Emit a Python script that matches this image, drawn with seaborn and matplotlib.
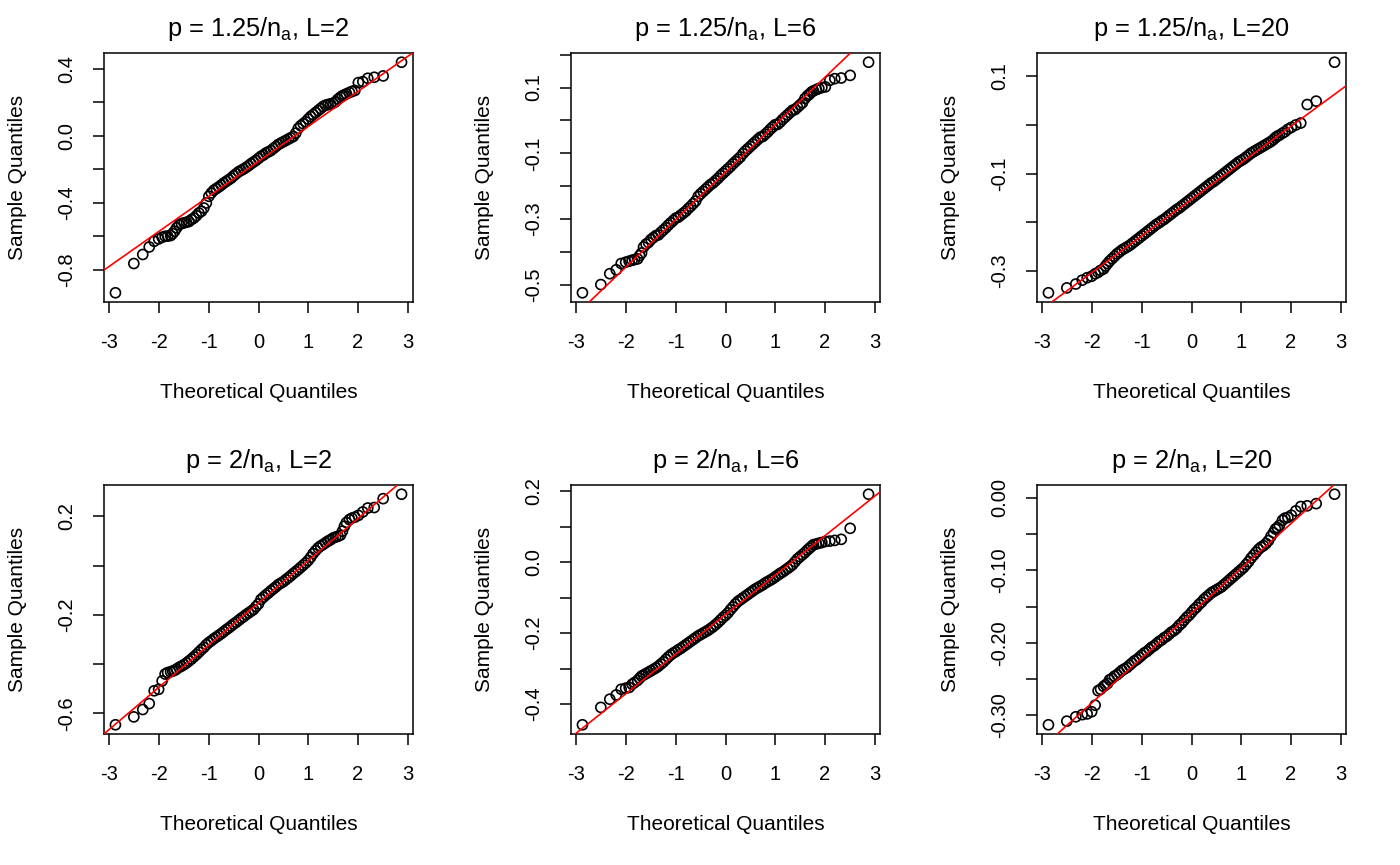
import numpy as np
import pandas as pd
import matplotlib
matplotlib.use("Agg")
import matplotlib.pyplot as plt
import seaborn as sns

# Theoretical normal quantiles (shared by every panel, n = 250 -> tails + dense centre)
theo = [-2.88, -2.51, -2.33, -2.20, -2.10, -2.01, -1.94, -1.88, -1.83, -1.77, -1.73, -1.69,
        -1.65, -1.60, -1.55, -1.50, -1.45, -1.40, -1.35, -1.30, -1.25, -1.20, -1.15, -1.10,
        -1.05, -1.00, -0.95, -0.90, -0.85, -0.80, -0.75, -0.70, -0.65, -0.60, -0.55, -0.50,
        -0.45, -0.40, -0.35, -0.30, -0.25, -0.20, -0.15, -0.10, -0.05, 0.00, 0.05, 0.10,
        0.15, 0.20, 0.25, 0.30, 0.35, 0.40, 0.45, 0.50, 0.55, 0.60, 0.65, 0.70,
        0.75, 0.80, 0.85, 0.90, 0.95, 1.00, 1.05, 1.10, 1.15, 1.20, 1.25, 1.30,
        1.35, 1.40, 1.45, 1.50, 1.55, 1.60, 1.65,
        1.69, 1.73, 1.77, 1.83, 1.88, 1.94, 2.01, 2.10, 2.20, 2.33, 2.51, 2.88]

# Sample quantiles
s_125_L2 = [-0.939, -0.764, -0.710, -0.665, -0.631, -0.617, -0.607, -0.601, -0.600, -0.597, -0.585, -0.571,
            -0.551, -0.533, -0.525, -0.521, -0.517, -0.513, -0.501, -0.492, -0.478, -0.462, -0.452, -0.432,
            -0.402, -0.362, -0.342, -0.326, -0.316, -0.306, -0.295, -0.283, -0.273, -0.263, -0.253, -0.239,
            -0.227, -0.215, -0.207, -0.199, -0.189, -0.179, -0.167, -0.157, -0.147, -0.135, -0.123, -0.115,
            -0.103, -0.096, -0.088, -0.076, -0.064, -0.052, -0.044, -0.036, -0.028, -0.020, -0.012, -0.004,
            0.016, 0.044, 0.060, 0.072, 0.084, 0.100, 0.115, 0.127, 0.139, 0.151, 0.163, 0.175,
            0.183, 0.187, 0.191, 0.195, 0.203, 0.219, 0.231,
            0.239, 0.245, 0.251, 0.259, 0.265, 0.271, 0.318, 0.324, 0.344, 0.350, 0.358, 0.440]

s_125_L6 = [-0.524, -0.499, -0.466, -0.454, -0.435, -0.431, -0.428, -0.425, -0.423, -0.421, -0.411, -0.403,
            -0.385, -0.376, -0.371, -0.362, -0.356, -0.350, -0.348, -0.340, -0.333, -0.326, -0.318, -0.311,
            -0.304, -0.297, -0.294, -0.288, -0.282, -0.276, -0.268, -0.261, -0.253, -0.245, -0.231, -0.223,
            -0.216, -0.209, -0.202, -0.195, -0.190, -0.183, -0.176, -0.168, -0.161, -0.154, -0.147, -0.140,
            -0.132, -0.125, -0.118, -0.111, -0.101, -0.093, -0.086, -0.079, -0.072, -0.065, -0.058, -0.051,
            -0.049, -0.042, -0.035, -0.027, -0.020, -0.013, -0.012, -0.005, 0.003, 0.010, 0.017, 0.024,
            0.031, 0.033, 0.040, 0.047, 0.054, 0.067, 0.075,
            0.080, 0.086, 0.090, 0.094, 0.097, 0.100, 0.102, 0.122, 0.127, 0.129, 0.137, 0.177]

s_125_L20 = [-0.345, -0.335, -0.327, -0.319, -0.314, -0.311, -0.306, -0.303, -0.299, -0.296, -0.290, -0.285,
             -0.280, -0.275, -0.270, -0.265, -0.261, -0.257, -0.254, -0.251, -0.248, -0.244, -0.240, -0.236,
             -0.232, -0.228, -0.224, -0.220, -0.216, -0.212, -0.208, -0.204, -0.201, -0.197, -0.194, -0.190,
             -0.186, -0.182, -0.178, -0.174, -0.171, -0.167, -0.163, -0.159, -0.155, -0.151, -0.147, -0.143,
             -0.139, -0.135, -0.131, -0.127, -0.123, -0.119, -0.116, -0.112, -0.108, -0.104, -0.100, -0.096,
             -0.092, -0.088, -0.084, -0.080, -0.076, -0.073, -0.070, -0.066, -0.062, -0.058, -0.055, -0.052,
             -0.049, -0.046, -0.043, -0.040, -0.037, -0.034, -0.030,
             -0.026, -0.023, -0.021, -0.017, -0.014, -0.009, -0.005, 0.000, 0.004, 0.042, 0.049, 0.129]

s_2_L2 = [-0.646, -0.614, -0.584, -0.560, -0.508, -0.502, -0.468, -0.440, -0.434, -0.431, -0.428, -0.425,
          -0.420, -0.413, -0.408, -0.402, -0.395, -0.387, -0.379, -0.370, -0.361, -0.351, -0.341, -0.332,
          -0.321, -0.312, -0.305, -0.297, -0.290, -0.283, -0.276, -0.268, -0.260, -0.253, -0.245, -0.237,
          -0.230, -0.222, -0.214, -0.207, -0.199, -0.192, -0.185, -0.178, -0.166, -0.155, -0.137, -0.128,
          -0.119, -0.111, -0.102, -0.094, -0.086, -0.077, -0.071, -0.065, -0.057, -0.049, -0.041, -0.032,
          -0.024, -0.016, -0.007, 0.002, 0.011, 0.021, 0.034, 0.049, 0.061, 0.072, 0.080, 0.086,
          0.093, 0.100, 0.105, 0.112, 0.116, 0.119, 0.124,
          0.140, 0.160, 0.175, 0.187, 0.193, 0.197, 0.204, 0.218, 0.234, 0.236, 0.272, 0.290]

s_2_L6 = [-0.458, -0.409, -0.386, -0.374, -0.358, -0.355, -0.353, -0.344, -0.339, -0.333, -0.327, -0.321,
          -0.318, -0.314, -0.310, -0.306, -0.302, -0.298, -0.293, -0.287, -0.281, -0.274, -0.267, -0.261,
          -0.256, -0.252, -0.247, -0.243, -0.238, -0.233, -0.228, -0.223, -0.218, -0.213, -0.208, -0.204,
          -0.200, -0.196, -0.192, -0.187, -0.182, -0.176, -0.170, -0.163, -0.156, -0.150, -0.143, -0.134,
          -0.126, -0.118, -0.111, -0.106, -0.101, -0.096, -0.091, -0.086, -0.081, -0.076, -0.072, -0.068,
          -0.064, -0.059, -0.055, -0.051, -0.047, -0.042, -0.037, -0.032, -0.028, -0.023, -0.018, -0.013,
          -0.007, 0.001, 0.009, 0.015, 0.021, 0.027, 0.034,
          0.039, 0.044, 0.049, 0.051, 0.053, 0.055, 0.058, 0.059, 0.061, 0.064, 0.095, 0.191]

s_2_L20 = [-0.313, -0.308, -0.302, -0.299, -0.298, -0.295, -0.286, -0.266, -0.264, -0.260, -0.258, -0.256,
           -0.251, -0.249, -0.246, -0.244, -0.241, -0.238, -0.236, -0.234, -0.231, -0.228, -0.225, -0.223,
           -0.220, -0.217, -0.214, -0.212, -0.209, -0.206, -0.204, -0.201, -0.198, -0.196, -0.193, -0.191,
           -0.188, -0.185, -0.183, -0.180, -0.176, -0.173, -0.169, -0.165, -0.162, -0.158, -0.154, -0.151,
           -0.147, -0.144, -0.140, -0.137, -0.134, -0.131, -0.129, -0.127, -0.125, -0.123, -0.120, -0.117,
           -0.114, -0.111, -0.108, -0.105, -0.102, -0.099, -0.096, -0.092, -0.088, -0.083, -0.079, -0.075,
           -0.071, -0.068, -0.066, -0.063, -0.059, -0.053, -0.048,
           -0.043, -0.041, -0.038, -0.031, -0.028, -0.027, -0.024, -0.018, -0.012, -0.011, -0.008, 0.005]

samples = [s_125_L2, s_125_L6, s_125_L20, s_2_L2, s_2_L6, s_2_L20]

# qqline (through the quartiles) for each panel
line_intercept = [-0.153, -0.157, -0.153, -0.151, -0.148, -0.159]
line_slope = [0.209, 0.144, 0.075, 0.171, 0.111, 0.0617]

titles = [r"p = 1.25/n$_{\mathrm{a}}$, L=2", r"p = 1.25/n$_{\mathrm{a}}$, L=6", r"p = 1.25/n$_{\mathrm{a}}$, L=20",
          r"p = 2/n$_{\mathrm{a}}$, L=2", r"p = 2/n$_{\mathrm{a}}$, L=6", r"p = 2/n$_{\mathrm{a}}$, L=20"]

x_ticks = [-3, -2, -1, 0, 1, 2, 3]
y_ticks = [[-0.8, -0.6, -0.4, -0.2, 0.0, 0.2, 0.4],
           [-0.5, -0.4, -0.3, -0.2, -0.1, 0.0, 0.1, 0.2],
           [-0.3, -0.2, -0.1, 0.0, 0.1],
           [-0.6, -0.4, -0.2, 0.0, 0.2],
           [-0.4, -0.3, -0.2, -0.1, 0.0, 0.1, 0.2],
           [-0.30, -0.25, -0.20, -0.15, -0.10, -0.05, 0.00]]
y_labels = [["-0.8", "", "-0.4", "", "0.0", "", "0.4"],
            ["-0.5", "", "-0.3", "", "-0.1", "", "0.1", ""],
            ["-0.3", "", "-0.1", "", "0.1"],
            ["-0.6", "", "-0.2", "", "0.2"],
            ["-0.4", "", "-0.2", "", "0.0", "", "0.2"],
            ["-0.30", "", "-0.20", "", "-0.10", "", "0.00"]]

sns.set_theme(style="ticks")
plt.rcParams["font.family"] = ["Liberation Sans", "DejaVu Sans"]
plt.rcParams["mathtext.fontset"] = "custom"
plt.rcParams["mathtext.rm"] = "Liberation Sans"
plt.rcParams["mathtext.it"] = "Liberation Sans:italic"
plt.rcParams["text.color"] = "black"
plt.rcParams["axes.labelcolor"] = "black"

W, H = 1400, 865
fig = plt.figure(figsize=(14, 8.65), dpi=100)
lefts = [104, 571, 1037]
tops = [53, 485]
aw, ah = 309, 249

for i in range(6):
    r, c = divmod(i, 3)
    ax = fig.add_axes([lefts[c] / W, (H - tops[r] - ah) / H, aw / W, ah / H])
    df = pd.DataFrame({"theoretical": theo, "sample": samples[i]})
    assert len(df) == len(samples[i])
    sns.scatterplot(data=df, x="theoretical", y="sample", ax=ax, marker="o", s=52,
                    facecolor="none", edgecolor="black", linewidth=1.2, zorder=2)
    ax.axline((0, line_intercept[i]), slope=line_slope[i], color="#ff0000", lw=1.2, zorder=3)
    ax.margins(x=0.04, y=0.04)
    ax.set_xticks(x_ticks)
    ax.set_xticklabels([str(t) for t in x_ticks])
    ax.set_yticks(y_ticks[i])
    ax.set_yticklabels(y_labels[i], rotation=90, va="center")
    ax.tick_params(axis="both", length=8, width=1.1, color="black", labelsize=14.5, labelcolor="black")
    ax.tick_params(axis="x", pad=14)
    ax.tick_params(axis="y", pad=12)
    for sp in ax.spines.values():
        sp.set_visible(True)
        sp.set_linewidth(1.1)
        sp.set_color("black")
    ax.set_xlabel("Theoretical Quantiles", fontsize=15)
    ax.set_ylabel("Sample Quantiles", fontsize=15)
    ax.xaxis.set_label_coords(0.5, -0.325)
    ax.yaxis.set_label_coords(-0.25, 0.5)
    ax.set_title(titles[i], fontsize=18.3, pad=12)
    ax.grid(False)

fig.savefig("out.png", dpi=100, facecolor="white")
